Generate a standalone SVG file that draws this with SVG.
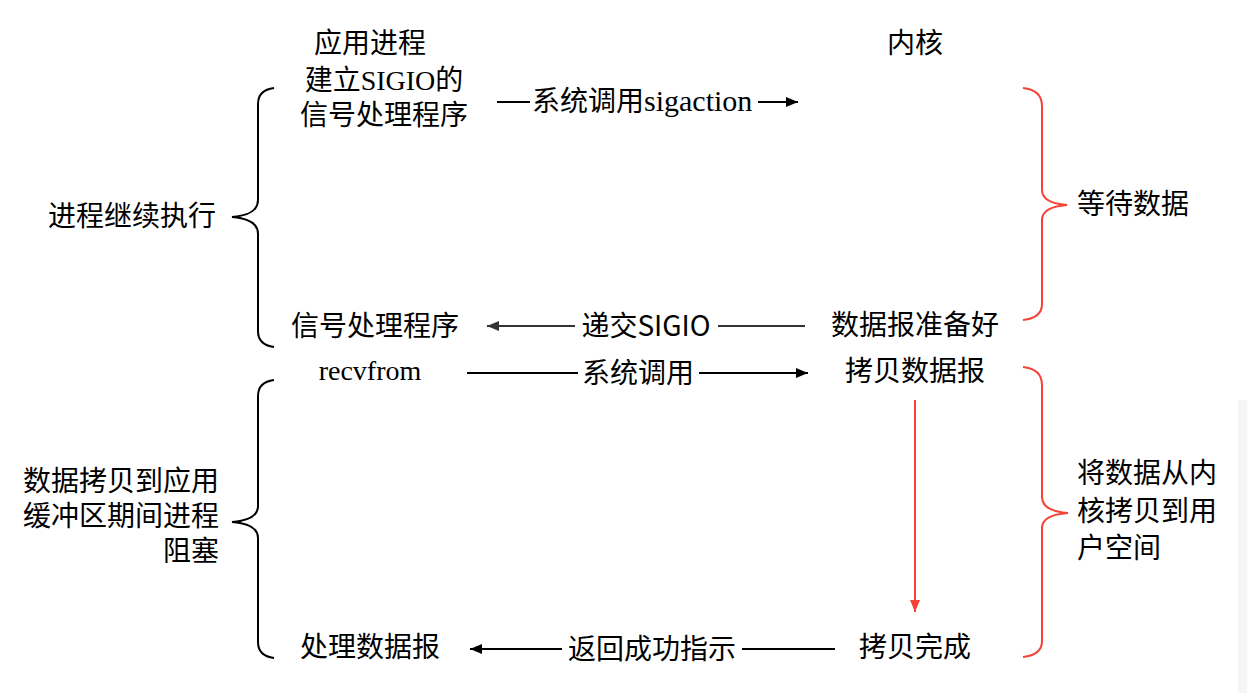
<svg xmlns="http://www.w3.org/2000/svg" width="1247" height="693" viewBox="0 0 1247 693">
<style>
.t{font-family:"Microsoft YaHei","Noto Sans CJK SC",sans-serif;font-size:28px;fill:#000}
.s{font-family:"Liberation Serif","Noto Sans CJK SC",serif}
.c{text-anchor:middle}
.e{text-anchor:end}
.k{fill:none;stroke:#000;stroke-width:2}
.r{fill:none;stroke:#f44336;stroke-width:2}
.l{stroke:#000;stroke-width:2;fill:none}
.g{stroke:#333;stroke-width:2;fill:none}
</style>
<defs>
<marker id="ab" viewBox="0 0 12 10" refX="12" refY="5" markerWidth="12" markerHeight="10" markerUnits="userSpaceOnUse" orient="auto"><path d="M0,0L12,5L0,10Z" fill="#000"/></marker>
<marker id="ag" viewBox="0 0 12 10" refX="12" refY="5" markerWidth="12" markerHeight="10" markerUnits="userSpaceOnUse" orient="auto"><path d="M0,0L12,5L0,10Z" fill="#333"/></marker>
<marker id="ar" viewBox="0 0 12 10" refX="12" refY="5" markerWidth="12" markerHeight="10" markerUnits="userSpaceOnUse" orient="auto"><path d="M0,0L12,5L0,10Z" fill="#f44336"/></marker>
</defs>
<rect x="0" y="0" width="1247" height="693" fill="#fff"/>
<rect x="1238" y="400" width="9" height="293" fill="#f6f6f6"/>

<g id="connectors">
<path class="l" d="M497,102H530"/>
<path class="l" d="M758,102H798" marker-end="url(#ab)"/>
<path class="g" d="M805,326H718"/>
<path class="g" d="M575,326H487" marker-end="url(#ag)"/>
<path class="l" d="M467,373H578"/>
<path class="l" d="M699,373H808" marker-end="url(#ab)"/>
<path class="l" d="M835,649H742"/>
<path class="l" d="M562,649H470" marker-end="url(#ab)"/>
<path class="r" d="M915,400V612" marker-end="url(#ar)"/>
</g>

<g id="brace-left-1"><path class="k" d="M274,88Q258,90 258,104V200Q258,215 232,217Q258,219 258,234V331Q258,345 274,347"/></g>
<g id="brace-left-2"><path class="k" d="M274,380Q258,382 258,396V506Q258,520 232,522Q258,524 258,538V642Q258,656 274,658"/></g>
<g id="brace-right-1"><path class="r" d="M1023,88Q1042,90 1042,106V190Q1042,203 1067,205Q1042,207 1042,220V304Q1042,318 1023,320"/></g>
<g id="brace-right-2"><path class="r" d="M1023,367Q1042,369 1042,385V497Q1042,511 1068,513Q1042,515 1042,528V641Q1042,655 1023,657"/></g>

<g id="n-app"><text class="t c" x="370" y="53">应用进程</text></g>
<g id="n-kernel"><text class="t c" x="915" y="53">内核</text></g>
<g id="n-sigio"><text class="t c" x="384" y="90">建立<tspan class="s">SIGIO</tspan>的<tspan x="384" y="125">信号处理程序</tspan></text></g>
<g id="l-sigaction"><text class="t" x="532" y="111">系统调用<tspan class="s" font-size="30">sigaction</tspan></text></g>
<g id="n-continue"><text class="t c" x="132" y="226">进程继续执行</text></g>
<g id="n-handler"><text class="t c" x="375" y="336">信号处理程序</text></g>
<g id="l-deliver"><text class="t c" x="646" y="336">递交SIGIO</text></g>
<g id="n-ready"><text class="t c" x="915" y="335">数据报准备好</text></g>
<g id="n-wait"><text class="t c" x="1133" y="214">等待数据</text></g>
<g id="n-recvfrom"><text class="t s c" x="370" y="380">recvfrom</text></g>
<g id="l-syscall"><text class="t c" x="638" y="383">系统调用</text></g>
<g id="n-copy"><text class="t c" x="915" y="381">拷贝数据报</text></g>
<g id="n-blocked"><text class="t e" font-size="29" x="219" y="491">数据拷贝到应用<tspan x="219" y="526">缓冲区期间进程</tspan><tspan x="219" y="561">阻塞</tspan></text></g>
<g id="n-copying"><text class="t" x="1077" y="483">将数据从内<tspan x="1077" y="521">核拷贝到用</tspan><tspan x="1077" y="558">户空间</tspan></text></g>
<g id="n-done"><text class="t c" x="915" y="657">拷贝完成</text></g>
<g id="n-process"><text class="t c" x="370" y="657">处理数据报</text></g>
<g id="l-return"><text class="t c" x="652" y="659">返回成功指示</text></g>
</svg>
